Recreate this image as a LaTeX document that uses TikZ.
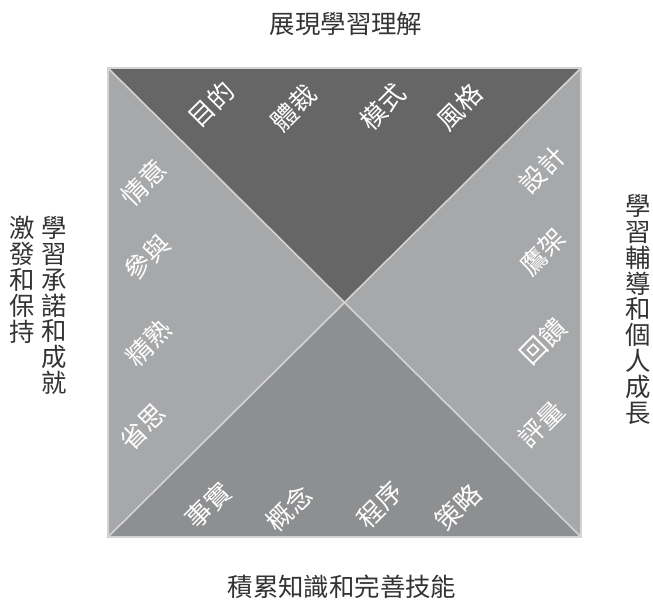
\documentclass[tikz,border=0pt]{standalone}
\usepackage{fontspec}
\newfontfamily\cjk{Noto Sans CJK TC}
\definecolor{topc}{HTML}{666666}
\definecolor{sidec}{HTML}{A7A8AA}
\definecolor{botc}{HTML}{8E8F91}
\definecolor{linec}{HTML}{D4D4D4}
\definecolor{txtc}{HTML}{333333}
\tikzset{
  lab/.style={text=white, rotate=45, inner sep=0pt, font={\cjk\fontsize{26}{26}\selectfont}},
  outer/.style={text=txtc, inner sep=0pt, font={\cjk\fontsize{25.5}{26}\selectfont}},
  vert/.style={outer, align=center, anchor=north},
  sep/.style={draw=linec, line width=1.6pt}
}
\begin{document}
\begin{tikzpicture}[x=1bp,y=-1bp]
\useasboundingbox (0,0) rectangle (653,601);
\coordinate (TL) at (108,68);
\coordinate (TR) at (581,68);
\coordinate (BR) at (581,537);
\coordinate (BL) at (108,537);
\coordinate (C) at (344.5,302.5);
\fill[topc] (TL) -- (TR) -- (C) -- cycle;
\fill[sidec] (TL) -- (C) -- (BL) -- cycle;
\fill[sidec] (TR) -- (C) -- (BR) -- cycle;
\fill[botc] (BL) -- (C) -- (BR) -- cycle;
\draw[sep] (TL) -- (BR);
\draw[sep] (TR) -- (BL);
\draw[sep] (TL) rectangle (BR);
% top
\node[lab] (t1) at (211,104) {目的};
\node[lab] (t2) at (294,108) {體裁};
\node[lab] (t3) at (383,107) {模式};
\node[lab] (t4) at (460,107) {風格};
% left
\node[lab] (l1) at (144,183) {情意};
\node[lab] (l2) at (147,257) {參與};
\node[lab] (l3) at (149,343) {精熟};
\node[lab] (l4) at (143,427) {省思};
% right
\node[lab] (r1) at (542,170) {設計};
\node[lab] (r2) at (543,252) {鷹架};
\node[lab] (r3) at (543,341) {回饋};
\node[lab] (r4) at (541,424) {評量};
% bottom
\node[lab] (b1) at (208,505) {事實};
\node[lab] (b2) at (289,508) {概念};
\node[lab] (b3) at (380,505) {程序};
\node[lab] (b4) at (458,507) {策略};
% outer
\node[outer] (top) at (346,24) {展現學習理解};
\node[outer] (bot) at (342,587) {積累知識和完善技能};
\node[vert] (lv1) at (22,216) {激\\發\\和\\保\\持};
\node[vert] (lv2) at (54.5,216) {學\\習\\承\\諾\\和\\成\\就};
\node[vert] (rv) at (638,194) {學\\習\\輔\\導\\和\\個\\人\\成\\長};
\end{tikzpicture}
\end{document}
